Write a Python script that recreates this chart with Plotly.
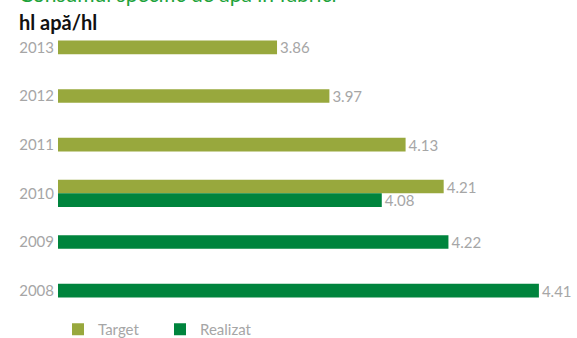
import plotly.graph_objects as go

years = ["2008", "2009", "2010", "2011", "2012", "2013"]
target_years = ["2010", "2011", "2012", "2013"]
target_vals = [4.21, 4.13, 3.97, 3.86]
realizat_years = ["2008", "2009", "2010"]
realizat_vals = [4.41, 4.22, 4.08]

C_TARGET = "#98a83d"
C_REAL = "#00843d"
GREY = "#a6a6a6"
FONT = "Lato"
BW = 0.28

both = set(target_years) & set(realizat_years)

def offsets(ys, upper):
    out = []
    for y in ys:
        if y in both:
            out.append(0 if upper else -BW)
        else:
            out.append(-BW / 2)
    return out

fig = go.Figure()
fig.add_trace(go.Bar(
    name="Target", y=target_years, x=target_vals, orientation="h",
    marker=dict(color=C_TARGET, line=dict(width=0)),
    width=[BW] * len(target_years), offset=offsets(target_years, True),
    text=[f"{v:.2f}" for v in target_vals], textposition="outside",
    constraintext="none",
    textfont=dict(color=GREY, size=15, family=FONT), cliponaxis=False,
))
fig.add_trace(go.Bar(
    name="Realizat", y=realizat_years, x=realizat_vals, orientation="h",
    marker=dict(color=C_REAL, line=dict(width=0)),
    width=[BW] * len(realizat_years), offset=offsets(realizat_years, False),
    text=[f"{v:.2f}" for v in realizat_vals], textposition="outside",
    constraintext="none",
    textfont=dict(color=GREY, size=15, family=FONT), cliponaxis=False,
))

fig.update_layout(
    width=577, height=338,
    margin=dict(l=58, r=0, t=23, b=23, autoexpand=False),
    paper_bgcolor="white", plot_bgcolor="white",
    barmode="overlay",
    font=dict(family=FONT, color=GREY, size=15),
    xaxis=dict(range=[3.4, 4.49], visible=False, showgrid=False, zeroline=False),
    yaxis=dict(type="category", categoryorder="array", categoryarray=years,
               range=[-0.5, 5.5], showgrid=False, zeroline=False,
               showline=False, ticks="", ticklabelstandoff=3,
               tickfont=dict(color=GREY, size=15, family=FONT)),
    showlegend=True,
    legend=dict(orientation="h", x=0, xanchor="left",
                y=2 / 292, yanchor="top",
                font=dict(color=GREY, size=15, family=FONT),
                itemwidth=30, tracegroupgap=0, traceorder="normal",
                entrywidth=57),
    annotations=[
        dict(text="<b>hl apă/hl</b>", xref="paper", yref="paper",
             x=-41 / 519, y=1 + 1 / 292, xanchor="left", yanchor="middle",
             showarrow=False, font=dict(color="#111111", size=20, family=FONT)),
        dict(text="Consumul specific de apă în fabrici", xref="paper", yref="paper",
             x=-41 / 519, y=1 + 15 / 292, xanchor="left", yanchor="bottom",
             showarrow=False, font=dict(color="#1ea33b", size=21, family=FONT)),
    ],
)

fig.write_html("out.html")
